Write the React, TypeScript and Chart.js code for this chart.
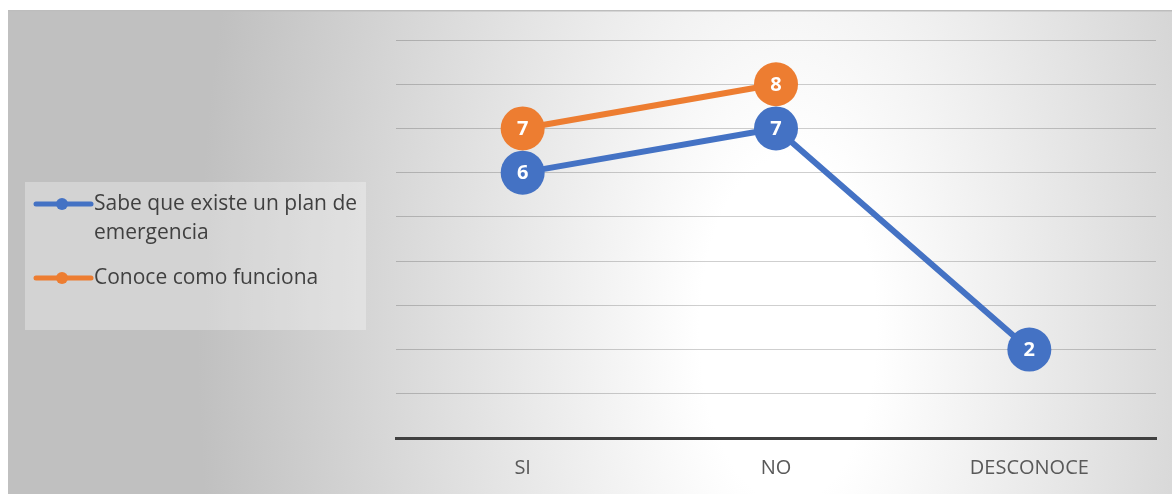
import React, { useEffect, useRef } from "react";
import { Chart, registerables } from "chart.js";

Chart.register(...registerables);

const categories = ["SI", "NO", "DESCONOCE"];
const sabeLabel = "Sabe que existe un plan de emergencia";
const conoceLabel = "Conoce como funciona";
const sabeValues: (number | null)[] = [6, 7, 2];
const conoceValues: (number | null)[] = [7, 8, null];
const yMin = 0;
const yMax = 9;
const yStep = 1;
const legendLines: string[][] = [["Sabe que existe un plan de", "emergencia"], ["Conoce como funciona"]];

const BLUE = "#4472C4";
const ORANGE = "#ED7D31";
const FONT = "'Open Sans', 'Noto Sans', sans-serif";

const backgroundPlugin = {
  id: "bgGradient",
  beforeDraw(chart: any) {
    const { ctx, width, height } = chart;
    ctx.save();
    const cx = 780;
    const cy = 320;
    const rx = 590;
    const ry = 1150;
    ctx.translate(cx, cy);
    ctx.scale(1, ry / rx);
    const g = ctx.createRadialGradient(0, 0, 0, 0, 0, rx);
    g.addColorStop(0, "#ffffff");
    g.addColorStop(0.15, "#ffffff");
    g.addColorStop(1, "#c0c0c0");
    ctx.fillStyle = g;
    ctx.fillRect(-cx, (-cy * rx) / ry, width, (height * rx) / ry);
    ctx.restore();
    ctx.save();
    ctx.strokeStyle = "#bdbdbd";
    ctx.lineWidth = 1.5;
    ctx.beginPath();
    ctx.moveTo(0, 0.75);
    ctx.lineTo(width, 0.75);
    ctx.stroke();
    ctx.restore();
  },
};

const legendPlugin = {
  id: "customLegend",
  afterDraw(chart: any) {
    const { ctx } = chart;
    ctx.save();
    ctx.fillStyle = "rgba(255,255,255,0.3)";
    ctx.fillRect(17, 172, 341, 148);
    const colors = [BLUE, ORANGE];
    const ys = [194, 268];
    ctx.font = `21px ${FONT}`;
    ctx.textBaseline = "middle";
    ctx.textAlign = "left";
    legendLines.forEach((lines, i) => {
      const y = ys[i];
      ctx.strokeStyle = colors[i];
      ctx.lineWidth = 5;
      ctx.lineCap = "round";
      ctx.beginPath();
      ctx.moveTo(28, y);
      ctx.lineTo(83, y);
      ctx.stroke();
      ctx.fillStyle = colors[i];
      ctx.beginPath();
      ctx.arc(54, y, 6, 0, Math.PI * 2);
      ctx.fill();
      ctx.fillStyle = "#404040";
      lines.forEach((t, j) => ctx.fillText(t, 86, y + j * 29));
    });
    ctx.restore();
  },
};

const labelPlugin = {
  id: "pointLabels",
  afterDatasetsDraw(chart: any) {
    const { ctx } = chart;
    ctx.save();
    ctx.font = `bold 20px ${FONT}`;
    ctx.fillStyle = "#ffffff";
    ctx.textAlign = "center";
    ctx.textBaseline = "middle";
    chart.data.datasets.forEach((ds: any, i: number) => {
      const meta = chart.getDatasetMeta(i);
      meta.data.forEach((el: any, j: number) => {
        const v = ds.data[j];
        if (v === null || v === undefined) return;
        ctx.fillText(String(v), el.x, el.y + 1);
      });
    });
    ctx.restore();
  },
};

export default function App() {
  const ref = useRef<HTMLCanvasElement | null>(null);
  useEffect(() => {
    if (!ref.current) return;
    const chart = new Chart(ref.current, {
      type: "line",
      data: {
        labels: categories,
        datasets: [
          {
            label: sabeLabel,
            data: sabeValues,
            borderColor: BLUE,
            backgroundColor: BLUE,
            pointBackgroundColor: BLUE,
            pointBorderWidth: 0,
            pointRadius: 22,
            pointHoverRadius: 22,
            borderWidth: 6,
            tension: 0,
            spanGaps: false,
            clip: false as any,
          },
          {
            label: conoceLabel,
            data: conoceValues,
            borderColor: ORANGE,
            backgroundColor: ORANGE,
            pointBackgroundColor: ORANGE,
            pointBorderWidth: 0,
            pointRadius: 22,
            pointHoverRadius: 22,
            borderWidth: 6,
            tension: 0,
            spanGaps: false,
            clip: false as any,
          },
        ],
      },
      options: {
        animation: false,
        responsive: false,
        maintainAspectRatio: false,
        events: [],
        layout: { padding: { left: 388, right: 22, top: 30, bottom: 0 } },
        plugins: { legend: { display: false }, tooltip: { enabled: false } },
        scales: {
          x: {
            offset: true,
            grid: { display: false, drawTicks: false },
            border: { display: true, color: "#404040", width: 3 },
            ticks: { color: "#595959", font: { family: FONT, size: 20 }, padding: 18 },
            afterFit: (s: any) => {
              s.height = 56;
            },
          },
          y: {
            min: yMin,
            max: yMax,
            ticks: { display: false, stepSize: yStep },
            grid: { color: "rgba(0,0,0,0.19)", drawTicks: false, tickLength: 0 },
            border: { display: false },
            afterFit: (s: any) => {
              s.width = 0;
            },
          },
        },
      },
      plugins: [backgroundPlugin, legendPlugin, labelPlugin],
    });
    return () => chart.destroy();
  }, []);
  return (
    <div style={{ position: "absolute", left: 8, top: 10, width: 1164, height: 484, overflow: "hidden" }}>
      <canvas ref={ref} width={1170} height={484} style={{ width: 1170, height: 484, display: "block" }} />
    </div>
  );
}
